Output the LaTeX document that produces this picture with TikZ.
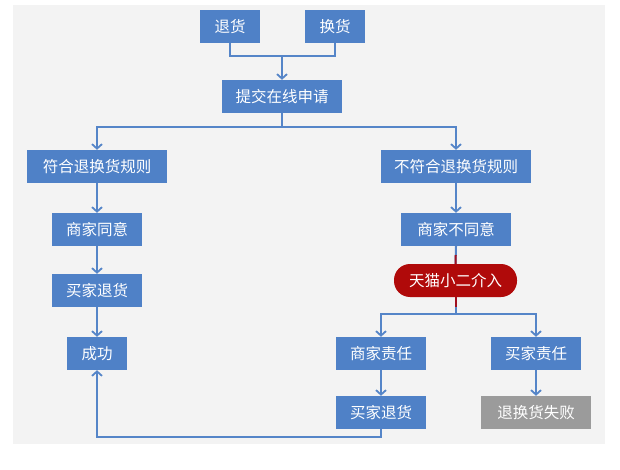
\documentclass[tikz,border=0pt]{standalone}
\usepackage{fontspec}
\newfontfamily\cjk{Noto Sans CJK SC}
\usetikzlibrary{arrows.meta,calc}
\definecolor{boxblue}{HTML}{4F81C7}
\definecolor{lineblue}{HTML}{5585C8}
\definecolor{pillred}{HTML}{B00A0A}
\definecolor{linered}{HTML}{A01020}
\definecolor{failgray}{HTML}{9B9B9B}
\definecolor{bggray}{HTML}{F3F3F3}
\tikzset{
  box/.style={fill=boxblue, text=white, inner sep=0pt, minimum height=33pt,
    font=\cjk\fontsize{15.5}{18}\selectfont},
  pill/.style={box, fill=pillred, rounded corners=16pt},
  failbox/.style={box, fill=failgray},
  conn/.style={draw=lineblue, line width=2pt},
  arr/.style={conn, -{Straight Barb[length=4.5pt,width=10pt,line width=1.8pt]}},
  redconn/.style={draw=linered, line width=2pt},
}
\begin{document}
\begin{tikzpicture}[x=1pt,y=-1pt]
\useasboundingbox (0,0) rectangle (620,470);
\fill[bggray] (13,5) rectangle (605,444);
% nodes
\node[box, minimum width=60pt] (th) at (230,26.5) {退货};
\node[box, minimum width=60pt] (hh) at (335,26.5) {换货};
\node[box, minimum width=120pt] (tj) at (282,96.5) {提交在线申请};
\node[box, minimum width=140pt] (fh) at (97,166.5) {符合退换货规则};
\node[box, minimum width=150pt] (bfh) at (456,166.5) {不符合退换货规则};
\node[box, minimum width=90pt] (sjty) at (97,229.5) {商家同意};
\node[box, minimum width=110pt] (sbty) at (456,229.5) {商家不同意};
\node[box, minimum width=90pt] (mjth) at (97,290.5) {买家退货};
\node[pill, minimum width=123pt] (tm) at (455.5,280.5) {天猫小二介入};
\node[box, minimum width=60pt] (cg) at (97,353.5) {成功};
\node[box, minimum width=90pt] (sjzr) at (381,353.5) {商家责任};
\node[box, minimum width=90pt] (mjzr) at (536,353.5) {买家责任};
\node[box, minimum width=90pt] (mjth2) at (381,412.5) {买家退货};
\node[failbox, minimum width=110pt] (sb) at (536,412.5) {退换货失败};
% junction coordinates
\coordinate (j1) at (282,56);
\coordinate (j2) at (282,127);
\coordinate (j3) at (455.5,314);
\coordinate (j4) at (381,437);
% connectors
\draw[conn] (th.south) |- (j1) -| (hh.south);
\draw[arr] (j1) -- (tj.north);
\draw[conn] (tj.south) -- (j2);
\draw[arr] (j2) -| (fh.north);
\draw[arr] (j2) -| (bfh.north);
\draw[arr] (fh.south) -- (sjty.north);
\draw[arr] (sjty.south) -- (mjth.north);
\draw[arr] (mjth.south) -- (cg.north);
\draw[arr] (bfh.south) -- (sbty.north);
\draw[conn] (sbty.south) -- (tm.north);
\draw[redconn] ($(sbty.south)!0.5!(tm.north)$) -- (tm.north);
\draw[conn] (tm.south) -- (j3);
\draw[redconn] (tm.south) -- ($(tm.south)!0.6!(j3)$);
\draw[arr] (j3) -| (sjzr.north);
\draw[arr] (j3) -| (mjzr.north);
\draw[arr] (sjzr.south) -- (mjth2.north);
\draw[arr] (mjzr.south) -- (sb.north);
\draw[arr] (mjth2.south) -- (j4) -| (cg.south);
\end{tikzpicture}
\end{document}
